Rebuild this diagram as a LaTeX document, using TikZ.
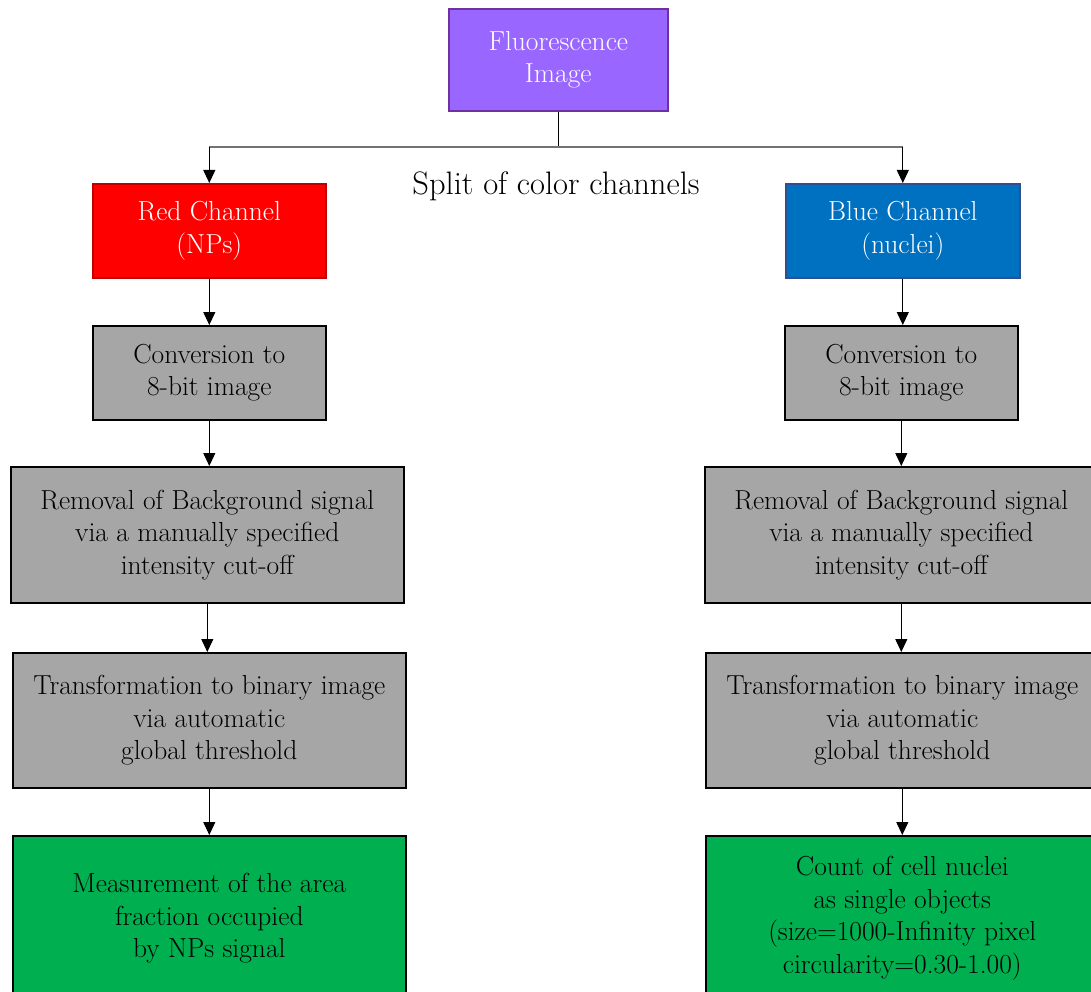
\documentclass[tikz,border=0pt]{standalone}
\usepackage{fontspec}
\usetikzlibrary{arrows.meta}
\definecolor{purplefill}{HTML}{9966FF}
\definecolor{purpleline}{HTML}{7030A0}
\definecolor{redfill}{HTML}{FF0000}
\definecolor{redline}{HTML}{C00000}
\definecolor{bluefill}{HTML}{0070C0}
\definecolor{blueline}{HTML}{2F4F8F}
\definecolor{grayfill}{HTML}{A6A6A6}
\definecolor{greenfill}{HTML}{00B050}
\begin{document}
\begin{tikzpicture}[x=1pt,y=-1pt,
  box/.style={rectangle, anchor=north west, inner sep=0pt, align=center,
    font=\fontsize{27.5}{32.5}\selectfont, line width=1.6pt},
  topbox/.style={box, fill=purplefill, draw=purpleline, text=white},
  redbox/.style={box, fill=redfill, draw=redline, text=white},
  bluebox/.style={box, fill=bluefill, draw=blueline, text=white},
  graybox/.style={box, fill=grayfill, draw=black, text=black},
  greenbox/.style={box, fill=greenfill, draw=black, text=black},
  arr/.style={draw=black, line width=1pt, -{Triangle[width=12pt,length=13pt]}},
  conn/.style={draw=black, line width=1pt}
]
\useasboundingbox (0,0) rectangle (1091,992);
\clip (0,0) rectangle (1091,992);
\fill[white] (0,0) rectangle (1091,992);

% top
\node[topbox, minimum width=219pt, minimum height=102pt] (fl) at (448,8) {Fluorescence\\Image};
\coordinate (sj) at (557,147);

% channels
\node[redbox, minimum width=233pt, minimum height=94pt] (red) at (92,183) {Red Channel\\(NPs)};
\node[bluebox, minimum width=234pt, minimum height=94pt] (blue) at (785,183) {Blue Channel\\(nuclei)};

\node[font=\fontsize{32.5}{36}\selectfont, anchor=center] (split) at (556,186) {Split of color channels};

% left column
\node[graybox, minimum width=233pt, minimum height=94pt] (lconv) at (92,325) {Conversion to\\8-bit image};
\node[graybox, minimum width=393pt, minimum height=136pt] (lrem) at (10,466) {Removal of Background signal\\via a manually specified\\intensity cut-off};
\node[graybox, minimum width=393pt, minimum height=135pt] (ltr) at (12,652) {Transformation to binary image\\via automatic\\global threshold};
\node[greenbox, minimum width=393pt, minimum height=165pt] (lgr) at (12,835) {Measurement of the area\\fraction occupied\\by NPs signal};

% right column
\node[graybox, minimum width=233pt, minimum height=94pt] (rconv) at (784,325) {Conversion to\\8-bit image};
\node[graybox, minimum width=393pt, minimum height=136pt] (rrem) at (704,466) {Removal of Background signal\\via a manually specified\\intensity cut-off};
\node[graybox, minimum width=393pt, minimum height=135pt] (rtr) at (705,652) {Transformation to binary image\\via automatic\\global threshold};
\node[greenbox, minimum width=393pt, minimum height=165pt] (rgr) at (705,835) {Count of cell nuclei\\as single objects\\(size=1000-Infinity pixel\\circularity=0.30-1.00)};

% connectors
\draw[conn] (fl.south) -- (fl.south |- sj);
\draw[draw=black!55, line width=1.4pt] (red.north |- sj) -- (blue.north |- sj);
\draw[arr] (red.north |- sj) -- (red.north);
\draw[arr] (blue.north |- sj) -- (blue.north);

\draw[arr] (red.south) -- (lconv.north);
\draw[arr] (lconv.south) -- (lconv.south |- lrem.north);
\draw[arr] (lrem.south) -- (lrem.south |- ltr.north);
\draw[arr] (ltr.south) -- (lgr.north);

\draw[arr] (blue.south) -- (blue.south |- rconv.north);
\draw[arr] (rconv.south) -- (rconv.south |- rrem.north);
\draw[arr] (rrem.south) -- (rrem.south |- rtr.north);
\draw[arr] (rtr.south) -- (rgr.north);
\end{tikzpicture}
\end{document}
